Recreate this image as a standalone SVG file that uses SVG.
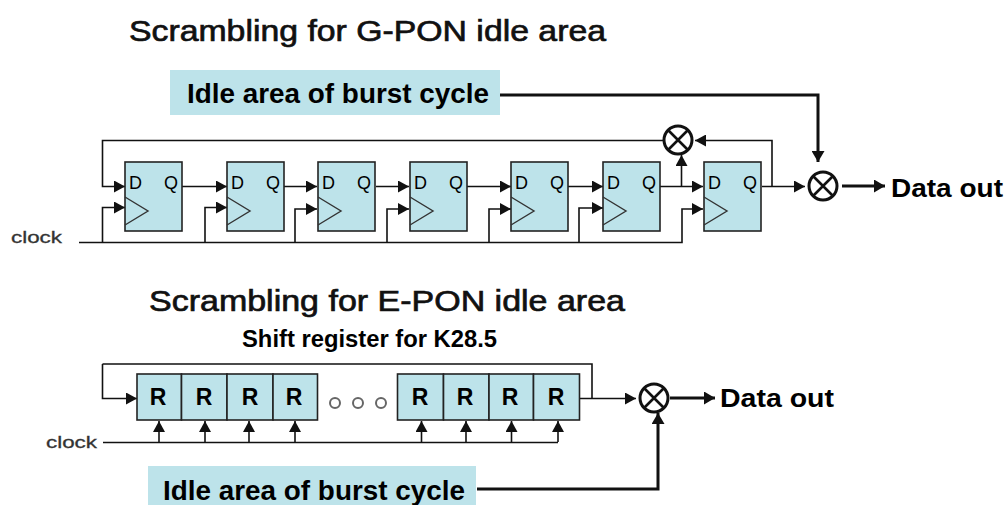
<svg xmlns="http://www.w3.org/2000/svg" width="1006" height="505" viewBox="0 0 1006 505">
<style>
text{font-family:"Liberation Sans",Arial,sans-serif;fill:#000}
.title{font-size:30px;fill:#111;stroke:#111;stroke-width:.7}
.idle{font-size:28px;font-weight:bold}
.out{font-size:26px;font-weight:bold}
.clk{font-size:17px;fill:#333;stroke:#333;stroke-width:.3}
.sub{font-size:23px;font-weight:bold}
.pin{font-size:18px}
.r{font-size:23px;font-weight:bold;text-anchor:middle}
.band{fill:#bde3ea}
.box{fill:#bde3ea;stroke:#222;stroke-width:1.6}
.tri{fill:none;stroke:#333;stroke-width:1.4}
.w{fill:none;stroke:#111;stroke-width:1.6}
.wa{fill:none;stroke:#111;stroke-width:1.6;marker-end:url(#a)}
.t{fill:none;stroke:#111;stroke-width:3;marker-end:url(#b)}
.x{fill:#fff;stroke:#111;stroke-width:3}
.dot{fill:none;stroke:#666;stroke-width:2}
</style>
<defs>
<marker id="a" markerUnits="userSpaceOnUse" markerWidth="13" markerHeight="12" refX="11" refY="6" orient="auto"><path d="M0 0L11 6L0 12Z" fill="#111"/></marker>
<marker id="b" markerUnits="userSpaceOnUse" markerWidth="13" markerHeight="13" refX="11" refY="6.500" orient="auto"><path d="M0 0L11 6.500L0 13Z" fill="#111"/></marker>
<g id="ff"><rect class="box" x="0" y="0" width="57" height="69"/><path class="tri" d="M0 35L23 49L0 63"/><text class="pin" x="4" y="27">D</text><text class="pin" x="39" y="27">Q</text></g>
<g id="xor"><circle class="x" r="14"/><path d="M-10-10L10 10M-10 10L10-10" stroke="#111" stroke-width="2.600"/></g>
</defs>
<rect width="1006" height="505" fill="#fff"/>
<text class="title" x="129" y="41" textLength="477" lengthAdjust="spacingAndGlyphs">Scrambling for G-PON idle area</text>
<text class="title" x="149" y="311" textLength="476" lengthAdjust="spacingAndGlyphs">Scrambling for E-PON idle area</text>
<text class="sub" x="242" y="347" textLength="255" lengthAdjust="spacingAndGlyphs">Shift register for K28.5</text>
<g id="connectors">
<path class="wa" d="M664 140.500H102.500V186.500H125"/>
<path class="wa" d="M79 242.500H682V209H703"/>
<path class="wa" d="M102.500 242.500V207.500H125"/>
<path class="wa" d="M205 242.500V207.500H227"/>
<path class="wa" d="M295 242.500V209H317"/>
<path class="wa" d="M387 242.500V209H409"/>
<path class="wa" d="M489 242.500V209H511"/>
<path class="wa" d="M579 242.500V208H603"/>
<path class="wa" d="M181 186.500H227"/>
<path class="wa" d="M278 186.500H317"/>
<path class="wa" d="M376 186.500H409"/>
<path class="wa" d="M467 186.500H511"/>
<path class="wa" d="M560 186.500H603"/>
<path class="wa" d="M659 186.500H703"/>
<path class="wa" d="M681.500 186.500V155"/>
<path class="wa" d="M762 186.500H805"/>
<path class="wa" d="M772 186.500V140.500H695"/>
<path class="t" d="M499 95H818V162"/>
<path class="t" d="M842 186H885"/>
<path class="wa" d="M102.500 364H592V398.500M102.500 364V398.500H137"/>
<path class="wa" d="M579 398.500H636"/>
<path class="t" d="M670 398H715"/>
<path class="w" d="M103 442.500H558"/>
<path class="wa" d="M159 442V421"/><path class="wa" d="M205 442V421"/><path class="wa" d="M249 442V421"/><path class="wa" d="M295 442V421"/>
<path class="wa" d="M421.500 442V421"/><path class="wa" d="M466 442V421"/><path class="wa" d="M511.500 442V421"/><path class="wa" d="M558 442V421"/>
<path class="t" d="M477 489H658V413"/>
</g>
<g id="idle-top"><rect class="band" x="170" y="70" width="330" height="45"/><text class="idle" x="187" y="103" textLength="302" lengthAdjust="spacingAndGlyphs">Idle area of burst cycle</text></g>
<g id="clock-top"><text class="clk" x="11" y="243" textLength="51" lengthAdjust="spacingAndGlyphs">clock</text></g>
<g id="ff1"><use href="#ff" x="125" y="162"/></g>
<g id="ff2"><use href="#ff" x="227" y="162"/></g>
<g id="ff3"><use href="#ff" x="318" y="162"/></g>
<g id="ff4"><use href="#ff" x="410" y="162"/></g>
<g id="ff5"><use href="#ff" x="511" y="162"/></g>
<g id="ff6"><use href="#ff" x="603" y="162"/></g>
<g id="ff7"><use href="#ff" x="704" y="162"/></g>
<g id="xor-feedback"><use href="#xor" x="678" y="140"/></g>
<g id="xor-out-top"><use href="#xor" x="823" y="186"/></g>
<g id="data-out-top"><text class="out" x="891" y="197" textLength="112" lengthAdjust="spacingAndGlyphs">Data out</text></g>
<g id="clock-bottom"><text class="clk" x="46" y="448" textLength="51" lengthAdjust="spacingAndGlyphs">clock</text></g>
<g id="r1"><rect class="box" x="137" y="374" width="44.500" height="46"/><text class="r" x="158" y="405">R</text></g>
<g id="r2"><rect class="box" x="181.500" y="374" width="45.500" height="46"/><text class="r" x="204" y="405">R</text></g>
<g id="r3"><rect class="box" x="227" y="374" width="46" height="46"/><text class="r" x="250" y="405">R</text></g>
<g id="r4"><rect class="box" x="273" y="374" width="44.500" height="46"/><text class="r" x="294" y="405">R</text></g>
<g id="dots"><circle class="dot" cx="335" cy="403" r="5"/><circle class="dot" cx="358" cy="403" r="5"/><circle class="dot" cx="381" cy="403" r="5"/></g>
<g id="r5"><rect class="box" x="397.500" y="374" width="46" height="46"/><text class="r" x="420" y="405">R</text></g>
<g id="r6"><rect class="box" x="443.500" y="374" width="45.500" height="46"/><text class="r" x="465" y="405">R</text></g>
<g id="r7"><rect class="box" x="489" y="374" width="44.500" height="46"/><text class="r" x="510" y="405">R</text></g>
<g id="r8"><rect class="box" x="533.500" y="374" width="46" height="46"/><text class="r" x="556" y="405">R</text></g>
<g id="xor-out-bottom"><use href="#xor" x="654" y="398"/></g>
<g id="data-out-bottom"><text class="out" x="720" y="407" textLength="114" lengthAdjust="spacingAndGlyphs">Data out</text></g>
<g id="idle-bottom"><rect class="band" x="148" y="466" width="328" height="39"/><text class="idle" x="163" y="500" textLength="302" lengthAdjust="spacingAndGlyphs">Idle area of burst cycle</text></g>
</svg>
